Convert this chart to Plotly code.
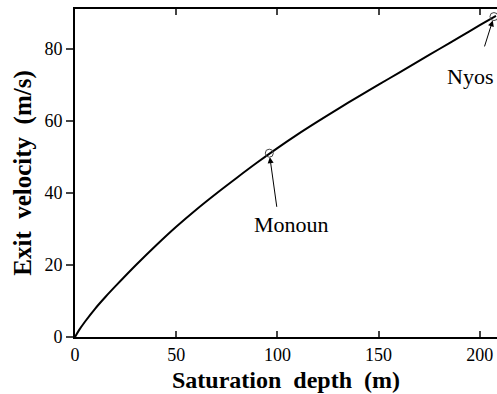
import plotly.graph_objects as go

# Curve values
depth = [0, 2, 5, 10, 15, 20, 30, 40, 50, 60, 70, 80, 90, 100, 110, 120, 130, 140, 150, 160, 170, 180, 190, 200, 208]
velocity = [0, 1.9, 4.3, 7.9, 11.1, 14.1, 19.9, 25.4, 30.6, 35.4, 39.9, 44.2, 48.4, 52.4, 56.2, 59.8, 63.3, 66.7, 70.0, 73.3, 76.6, 79.9, 83.2, 86.5, 89.1]

# Labelled lakes
lake_names = ["Monoun", "Nyos"]
lake_depth = [96, 207]
lake_velocity = [51, 88.9]
label_x = [107, 195]
label_y = [31.3, 72.3]
arrow_tail_x = [99.8, 202.1]
arrow_tail_y = [35.7, 80.2]

x_ticks = [0, 50, 100, 150, 200]
y_ticks = [0, 20, 40, 60, 80]

serif = "Liberation Serif, Times New Roman, serif"

fig = go.Figure()
fig.add_trace(go.Scatter(x=depth, y=velocity, mode="lines",
                         line=dict(color="black", width=2, shape="spline", smoothing=0.8),
                         showlegend=False, hoverinfo="skip"))
fig.add_trace(go.Scatter(x=lake_depth, y=lake_velocity, mode="markers",
                         marker=dict(symbol="circle-open", size=8, color="#444",
                                     line=dict(width=1)),
                         cliponaxis=False, showlegend=False))

for i, name in enumerate(lake_names):
    fig.add_annotation(x=lake_depth[i], y=lake_velocity[i],
                       ax=arrow_tail_x[i], ay=arrow_tail_y[i],
                       axref="x", ayref="y", xref="x", yref="y",
                       text="", showarrow=True, arrowhead=2, arrowsize=1.2,
                       arrowwidth=1, arrowcolor="black", standoff=4)
    fig.add_annotation(x=label_x[i], y=label_y[i], xref="x", yref="y",
                       text=name, showarrow=False,
                       font=dict(family=serif, size=22, color="black"))

fig.update_layout(
    width=497, height=394,
    margin=dict(l=75, r=0, t=9, b=57),
    plot_bgcolor="white", paper_bgcolor="white",
    font=dict(family=serif, color="black"),
    xaxis=dict(range=[0, 208.5], tickvals=x_ticks, ticks="inside", ticklen=6,
               tickwidth=1.5, showline=True, linewidth=2, linecolor="black",
               mirror="ticks", showgrid=False, zeroline=False,
               tickfont=dict(family=serif, size=18),
               title=dict(text="<b>Saturation\u00a0\u00a0depth\u00a0\u00a0(m)</b>",
                          font=dict(family=serif, size=24), standoff=8)),
    yaxis=dict(range=[0, 91], tickvals=y_ticks, ticks="outside", ticklen=7,
               tickwidth=1.5, showline=True, linewidth=2, linecolor="black",
               showgrid=False, zeroline=False,
               tickfont=dict(family=serif, size=18),
               title=dict(text="<b>Exit\u00a0\u00a0velocity\u00a0\u00a0(m/s)</b>",
                          font=dict(family=serif, size=25), standoff=6)),
)

fig.write_html("out.html", config={"displayModeBar": False},
               post_script="document.body.style.margin='0';document.body.style.overflow='hidden';")
